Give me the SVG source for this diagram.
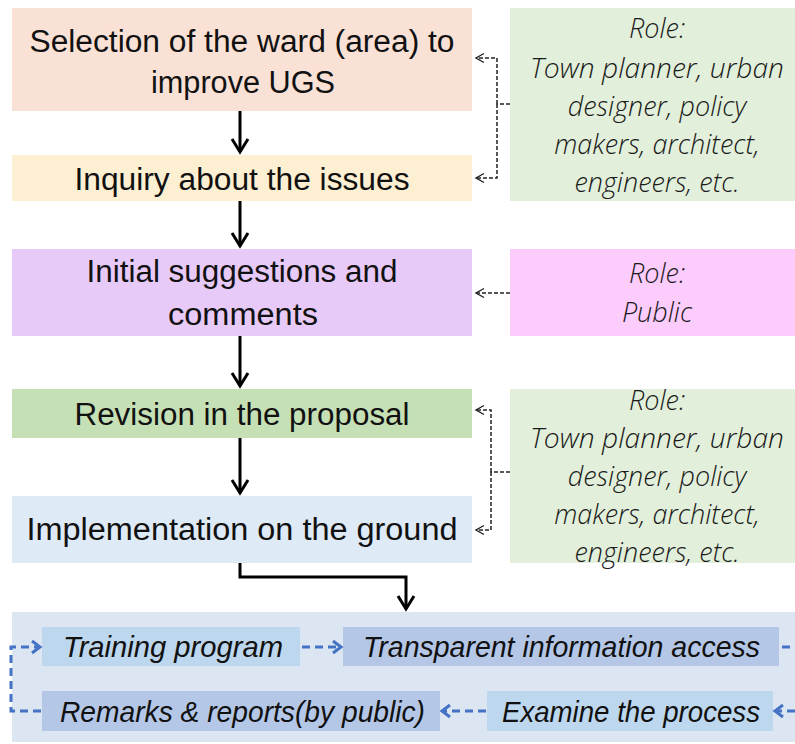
<svg xmlns="http://www.w3.org/2000/svg" width="795" height="744" viewBox="0 0 795 744">
  <defs>
    <style>
      .step { font-family: "Liberation Sans", "Noto Sans", sans-serif; font-size: 31px; fill: #111; }
      .role { font-family: "Open Sans", "Liberation Sans", sans-serif; font-style: italic; font-weight: 300; font-size: 27px; fill: #1a1a1a; text-anchor: middle; }
      .loop { font-family: "Liberation Sans", "Noto Sans", sans-serif; font-style: italic; font-size: 29px; fill: #111; }
      .flow { fill: none; stroke: #000; stroke-width: 3; }
      .hint { fill: none; stroke: #222; stroke-width: 1.5; stroke-dasharray: 4 2; }
      .cycle { fill: none; stroke: #4472C4; stroke-width: 3; stroke-dasharray: 8 5; }
    </style>
    <marker id="head" markerUnits="userSpaceOnUse" markerWidth="20" markerHeight="20" viewBox="0 0 20 20" refX="17" refY="10" orient="auto">
      <path d="M4,2 L17,10 L4,18" fill="none" stroke="#000" stroke-width="3"/>
    </marker>
    <marker id="thin" markerUnits="userSpaceOnUse" markerWidth="12" markerHeight="12" viewBox="0 0 12 12" refX="10" refY="6" orient="auto">
      <path d="M2,1.5 L10,6 L2,10.5" fill="none" stroke="#222" stroke-width="1.4"/>
    </marker>
    <marker id="blue" markerUnits="userSpaceOnUse" markerWidth="14" markerHeight="16" viewBox="0 0 14 16" refX="11" refY="8" orient="auto">
      <path d="M3,2 L11,8 L3,14" fill="none" stroke="#4472C4" stroke-width="3"/>
    </marker>
  </defs>

  <rect width="795" height="744" fill="#ffffff"/>

  <!-- process steps -->
  <g id="selection">
    <rect x="12" y="8" width="460" height="103" fill="#F9E1D6"/>
    <text class="step" x="242" y="52" text-anchor="middle" textLength="425" lengthAdjust="spacingAndGlyphs">Selection of the ward (area) to</text>
    <text class="step" x="243" y="93" text-anchor="middle" textLength="184" lengthAdjust="spacingAndGlyphs">improve UGS</text>
  </g>
  <g id="inquiry">
    <rect x="12" y="155" width="460" height="46" fill="#FDEFD2"/>
    <text class="step" x="242" y="190" text-anchor="middle" textLength="335" lengthAdjust="spacingAndGlyphs">Inquiry about the issues</text>
  </g>
  <g id="suggestions">
    <rect x="12" y="249" width="460" height="87" fill="#E8CAF8"/>
    <text class="step" x="242" y="282" text-anchor="middle" textLength="311" lengthAdjust="spacingAndGlyphs">Initial suggestions and</text>
    <text class="step" x="243" y="325" text-anchor="middle" textLength="150" lengthAdjust="spacingAndGlyphs">comments</text>
  </g>
  <g id="revision">
    <rect x="12" y="389" width="460" height="49" fill="#C6E0B5"/>
    <text class="step" x="242" y="425" text-anchor="middle" textLength="335" lengthAdjust="spacingAndGlyphs">Revision in the proposal</text>
  </g>
  <g id="implementation">
    <rect x="12" y="496" width="460" height="67" fill="#DEEAF6"/>
    <text class="step" x="242" y="540" text-anchor="middle" textLength="431" lengthAdjust="spacingAndGlyphs">Implementation on the ground</text>
  </g>

  <!-- roles -->
  <g id="role-experts-top">
    <rect x="510" y="8" width="285" height="193" fill="#E2EFDA"/>
    <text class="role" x="657" y="38">Role:</text>
    <text class="role" x="657" y="78" textLength="254" lengthAdjust="spacingAndGlyphs">Town planner, urban</text>
    <text class="role" x="657" y="116">designer, policy</text>
    <text class="role" x="657" y="154">makers, architect,</text>
    <text class="role" x="657" y="192">engineers, etc.</text>
  </g>
  <g id="role-public">
    <rect x="510" y="249" width="285" height="87" fill="#FCCCFC"/>
    <text class="role" x="657" y="283">Role:</text>
    <text class="role" x="657" y="322">Public</text>
  </g>
  <g id="role-experts-bottom">
    <rect x="510" y="389" width="285" height="174" fill="#E2EFDA"/>
    <text class="role" x="657" y="410">Role:</text>
    <text class="role" x="657" y="448" textLength="254" lengthAdjust="spacingAndGlyphs">Town planner, urban</text>
    <text class="role" x="657" y="486">designer, policy</text>
    <text class="role" x="657" y="524">makers, architect,</text>
    <text class="role" x="657" y="562">engineers, etc.</text>
  </g>

  <!-- monitoring loop -->
  <g id="loop-panel">
    <rect x="12" y="612" width="783" height="130" fill="#DCE6F3"/>
  </g>
  <g id="training">
    <rect x="42" y="627" width="258" height="39" fill="#BDD7EE"/>
    <text class="loop" x="63" y="657" textLength="220" lengthAdjust="spacingAndGlyphs">Training program</text>
  </g>
  <g id="transparency">
    <rect x="343" y="627" width="436" height="39" fill="#B4C7E7"/>
    <text class="loop" x="363" y="657" textLength="397" lengthAdjust="spacingAndGlyphs">Transparent information access</text>
  </g>
  <g id="examine">
    <rect x="487" y="691" width="286" height="40" fill="#BDD7EE"/>
    <text class="loop" x="502" y="722" textLength="258" lengthAdjust="spacingAndGlyphs">Examine the process</text>
  </g>
  <g id="remarks">
    <rect x="42" y="691" width="398" height="40" fill="#B4C7E7"/>
    <text class="loop" x="60" y="722" textLength="365" lengthAdjust="spacingAndGlyphs">Remarks &amp; reports(by public)</text>
  </g>

  <!-- connectors -->
  <g id="connectors">
    <line class="flow" x1="240" y1="111" x2="240" y2="152" marker-end="url(#head)"/>
    <line class="flow" x1="240" y1="201" x2="240" y2="246" marker-end="url(#head)"/>
    <line class="flow" x1="240" y1="336" x2="240" y2="386" marker-end="url(#head)"/>
    <line class="flow" x1="240" y1="438" x2="240" y2="493" marker-end="url(#head)"/>
    <polyline class="flow" points="240,563 240,577 406,577 406,609" marker-end="url(#head)"/>

    <path class="hint" d="M510,104 H497"/>
    <polyline class="hint" points="497,104 497,58 476,58" marker-end="url(#thin)"/>
    <polyline class="hint" points="497,104 497,178 476,178" marker-end="url(#thin)"/>

    <line class="hint" x1="510" y1="293" x2="476" y2="293" marker-end="url(#thin)"/>

    <path class="hint" d="M510,472 H491"/>
    <polyline class="hint" points="491,472 491,410 476,410" marker-end="url(#thin)"/>
    <polyline class="hint" points="491,472 491,530 476,530" marker-end="url(#thin)"/>

    <line class="cycle" x1="302" y1="647" x2="341" y2="647" marker-end="url(#blue)"/>
    <line class="cycle" x1="782" y1="647" x2="795" y2="647"/>
    <line class="cycle" x1="795" y1="711" x2="775" y2="711" marker-end="url(#blue)"/>
    <line class="cycle" x1="486" y1="711" x2="442" y2="711" marker-end="url(#blue)"/>
    <polyline class="cycle" points="41,711 11,711 11,647 40,647" marker-end="url(#blue)"/>
  </g>
</svg>
